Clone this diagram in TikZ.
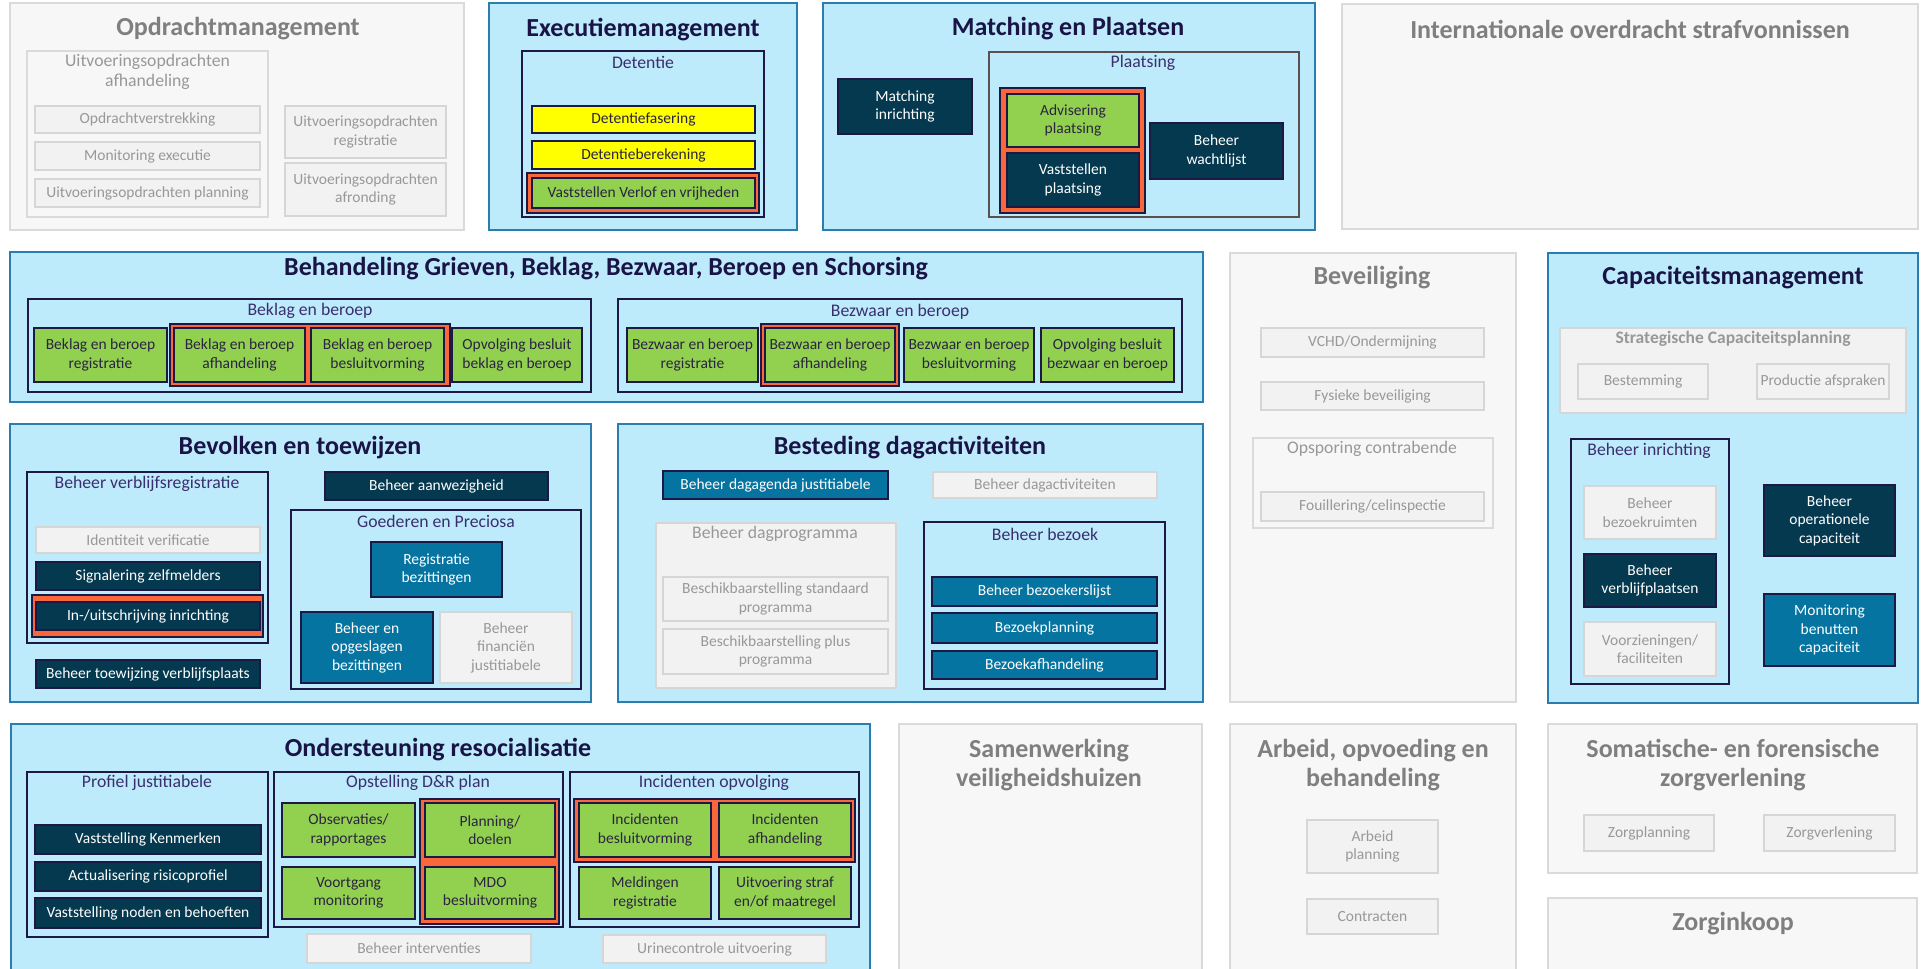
\documentclass[tikz,border=0pt]{standalone}
\usepackage{fontspec}
\setmainfont{Carlito}
\definecolor{cyanbg}{HTML}{BDEBFC}
\definecolor{domborder}{HTML}{2A7DAE}
\definecolor{greybg}{HTML}{F7F7F7}
\definecolor{greyborder}{HTML}{DADADA}
\definecolor{navy}{HTML}{1C1A45}
\definecolor{darkteal}{HTML}{05394F}
\definecolor{midblue}{HTML}{0574A0}
\definecolor{lgreen}{HTML}{92D050}
\definecolor{yel}{HTML}{FFFF00}
\definecolor{orng}{HTML}{F8683B}
\definecolor{greyitem}{HTML}{F2F2F2}
\definecolor{greyitemborder}{HTML}{D6D6D6}
\definecolor{greytext}{HTML}{989898}
\definecolor{titlenavy}{HTML}{1A1446}
\definecolor{headernavy}{HTML}{3A2F6E}
\definecolor{itemtext}{HTML}{2A2440}
\definecolor{titlegrey}{HTML}{7F7F7F}
\definecolor{plaatsborder}{HTML}{5A5050}
\newcommand\bxn[7]{\node[#1, minimum width={#5pt-#3pt}, minimum height={#6pt-#4pt}] (#2) at ({(#3+#5)/2},{(#4+#6)/2}) {#7};}
\tikzset{
  base/.style={rectangle, inner sep=0pt, outer sep=0pt, align=center, font=\fontsize{15.5}{18.5}\selectfont},
  domb/.style={base, fill=cyanbg, draw=domborder, line width=2.5pt},
  domg/.style={base, fill=greybg, draw=greyborder, line width=2.5pt},
  subb/.style={base, draw=navy, line width=2.2pt},
  subbp/.style={base, draw=plaatsborder, line width=2.2pt},
  subg/.style={base, fill=greybg, draw=greyborder, line width=2pt},
  subg2/.style={base, fill=greyitem, draw=greyitemborder, line width=2pt},
  dk/.style={base, fill=darkteal, draw=navy, line width=2pt, text=white},
  bl/.style={base, fill=midblue, draw=navy, line width=2pt, text=white},
  gr/.style={base, fill=lgreen, draw=navy, line width=2pt, text=itemtext},
  ye/.style={base, fill=yel, draw=navy, line width=2pt, text=itemtext},
  gy/.style={base, fill=greyitem, draw=greyitemborder, line width=2pt, text=greytext},
  hl/.style={base, fill=orng, draw=navy, line width=2pt},
  ttl/.style={align=center, inner sep=0pt, font=\fontsize{26}{29.5}\selectfont\bfseries, text=titlenavy},
  ttlg/.style={align=center, inner sep=0pt, font=\fontsize{26}{29.5}\selectfont\bfseries, text=titlegrey},
  hd/.style={align=center, inner sep=0pt, font=\fontsize{17.7}{20}\selectfont, text=headernavy},
  hdg/.style={align=center, inner sep=0pt, font=\fontsize{17.7}{20}\selectfont, text=greytext},
}
\begin{document}
\begin{tikzpicture}[x=1pt,y=-1pt]
\useasboundingbox (0,0) rectangle (1922,969);
\clip (0,0) rectangle (1922,969);
\fill[white] (0,0) rectangle (1922,969);

% ---------- Row 1 ----------
\bxn{domg}{opd}{10}{3}{464}{230}{}
\node[ttlg] (topd) at (238,29) {Opdrachtmanagement};
\bxn{subg}{opdsub}{27}{51}{268}{217}{}
\node[hdg] (hopdsub) at (147.5,72) {Uitvoeringsopdrachten\\afhandeling};
\bxn{gy}{o1}{35}{106}{260}{133}{Opdrachtverstrekking}
\bxn{gy}{o2}{35}{142}{260}{170}{Monitoring executie}
\bxn{gy}{o3}{35}{179}{260}{207}{Uitvoeringsopdrachten planning}
\bxn{gy}{o4}{285}{106}{446}{158}{Uitvoeringsopdrachten\\registratie}
\bxn{gy}{o5}{285}{163}{446}{216}{Uitvoeringsopdrachten\\afronding}

\bxn{domb}{exe}{489}{3}{797}{230}{}
\node[ttl] (texe) at (643,30) {Executiemanagement};
\bxn{subb}{det}{522}{51}{764}{217}{}
\node[hd] (hdet) at (643,62) {Detentie};
\bxn{ye}{d1}{532}{106}{755}{133}{Detentiefasering}
\bxn{ye}{d2}{532}{141}{755}{169}{Detentieberekening}
\bxn{hl}{dhl}{527}{173}{759}{213}{}
\bxn{gr}{d3}{532}{178}{755}{208}{Vaststellen Verlof en vrijheden}

\bxn{domb}{mat}{823}{3}{1315}{230}{}
\node[ttl] (tmat) at (1068,29) {Matching en Plaatsen};
\bxn{dk}{m1}{838}{79}{972}{134}{Matching\\inrichting}
\bxn{subbp}{plaats}{989}{52}{1299}{217}{}
\node[hd] (hplaats) at (1143,63) {Plaatsing};
\bxn{hl}{mhl}{1000}{88}{1145}{213}{}
\bxn{gr}{m2}{1007}{94}{1139}{147}{Advisering\\plaatsing}
\bxn{dk}{m3}{1007}{153}{1139}{207}{Vaststellen\\plaatsing}
\bxn{dk}{m4}{1150}{123}{1283}{179}{Beheer\\wachtlijst}

\bxn{domg}{int}{1342}{4}{1918}{229}{}
\node[ttlg] (tint) at (1630,29) {Internationale overdracht strafvonnissen};

% ---------- Row 2 ----------
\bxn{domb}{beh}{10}{252}{1203}{402}{}
\node[ttl] (tbeh) at (606,269) {Behandeling Grieven, Beklag, Bezwaar, Beroep en Schorsing};
\bxn{subb}{bk}{28}{299}{591}{392}{}
\node[hd] (hbk) at (310,311) {Beklag en beroep};
\bxn{gr}{b1}{34}{328}{167}{382}{Beklag en beroep\\registratie}
\bxn{hl}{bhl}{170}{324}{450}{386}{}
\bxn{gr}{b2}{174}{328}{305}{382}{Beklag en beroep\\afhandeling}
\bxn{gr}{b3}{311}{328}{444}{382}{Beklag en beroep\\besluitvorming}
\bxn{gr}{b4}{452}{328}{582}{382}{Opvolging besluit\\beklag en beroep}
\bxn{subb}{bz}{618}{299}{1182}{392}{}
\node[hd] (hbz) at (900,312) {Bezwaar en beroep};
\bxn{gr}{z1}{627}{328}{758}{382}{Bezwaar en beroep\\registratie}
\bxn{hl}{zhl}{761}{324}{899}{386}{}
\bxn{gr}{z2}{765}{328}{895}{382}{Bezwaar en beroep\\afhandeling}
\bxn{gr}{z3}{904}{328}{1034}{382}{Bezwaar en beroep\\besluitvorming}
\bxn{gr}{z4}{1041}{328}{1174}{382}{Opvolging besluit\\bezwaar en beroep}

\bxn{domg}{bev}{1230}{253}{1516}{702}{}
\node[ttlg] (tbev) at (1372,278) {Beveiliging};
\bxn{gy}{v1}{1261}{328}{1484}{357}{VCHD/Ondermijning}
\bxn{gy}{v2}{1261}{382}{1484}{410}{Fysieke beveiliging}
\bxn{subg}{vsub}{1253}{438}{1493}{528}{}
\node[hdg] (hvsub) at (1372,449) {Opsporing contrabende};
\bxn{gy}{v3}{1261}{492}{1484}{521}{Fouillering/celinspectie}

\bxn{domb}{cap}{1548}{253}{1918}{703}{}
\node[ttl] (tcap) at (1733,278) {Capaciteitsmanagement};
\bxn{subg2}{cs}{1560}{328}{1906}{413}{}
\node[hdg, font=\fontsize{17.5}{20}\selectfont\bfseries] (hcs) at (1733,339) {Strategische Capaciteitsplanning};
\bxn{gy}{c1}{1578}{364}{1708}{399}{Bestemming}
\bxn{gy}{c2}{1757}{364}{1889}{399}{Productie afspraken}
\bxn{subb}{ci}{1571}{439}{1729}{684}{}
\node[hd] (hci) at (1649,451) {Beheer inrichting};
\bxn{gy}{c3}{1584}{486}{1716}{539}{Beheer\\bezoekruimten}
\bxn{dk}{c4}{1584}{554}{1716}{607}{Beheer\\verblijfplaatsen}
\bxn{gy}{c5}{1584}{622}{1716}{676}{Voorzieningen/\\faciliteiten}
\bxn{dk}{c6}{1764}{485}{1895}{556}{Beheer\\operationele\\capaciteit}
\bxn{bl}{c7}{1764}{594}{1895}{666}{Monitoring\\benutten\\capaciteit}

% ---------- Row 3 ----------
\bxn{domb}{bvk}{10}{424}{591}{702}{}
\node[ttl] (tbvk) at (300,448) {Bevolken en toewijzen};
\bxn{subb}{bvr}{27}{472}{268}{643}{}
\node[hd] (hbvr) at (147,484) {Beheer verblijfsregistratie};
\bxn{gy}{r1}{36}{527}{260}{553}{Identiteit verificatie}
\bxn{dk}{r2}{36}{562}{260}{590}{Signalering zelfmelders}
\bxn{hl}{rhl}{32}{595}{263}{637}{}
\bxn{dk}{r3}{36}{602}{260}{630}{In-/uitschrijving inrichting}
\bxn{dk}{r4}{36}{660}{260}{688}{Beheer toewijzing verblijfsplaats}
\bxn{dk}{r5}{325}{472}{548}{500}{Beheer aanwezigheid}
\bxn{subb}{gp}{291}{510}{581}{689}{}
\node[hd] (hgp) at (436,521) {Goederen en Preciosa};
\bxn{bl}{g1}{371}{542}{502}{597}{Registratie\\bezittingen}
\bxn{bl}{g2}{301}{612}{433}{683}{Beheer en\\opgeslagen\\bezittingen}
\bxn{gy}{g3}{440}{612}{572}{683}{Beheer\\financiën\\justitiabele}

\bxn{domb}{bst}{618}{424}{1203}{702}{}
\node[ttl] (tbst) at (910,448) {Besteding dagactiviteiten};
\bxn{bl}{s1}{663}{471}{888}{499}{Beheer dagagenda justitiabele}
\bxn{gy}{s2}{933}{472}{1157}{498}{Beheer dagactiviteiten}
\bxn{subg2}{dp}{656}{523}{896}{688}{}
\node[hdg] (hdp) at (775,534) {Beheer dagprogramma};
\bxn{gy}{s3}{663}{577}{888}{621}{Beschikbaarstelling standaard\\programma}
\bxn{gy}{s4}{663}{629}{888}{674}{Beschikbaarstelling plus\\programma}
\bxn{subb}{bb}{924}{522}{1165}{689}{}
\node[hd] (hbb) at (1045,534) {Beheer bezoek};
\bxn{bl}{s5}{932}{577}{1157}{606}{Beheer bezoekerslijst}
\bxn{bl}{s6}{932}{613}{1157}{643}{Bezoekplanning}
\bxn{bl}{s7}{932}{651}{1157}{679}{Bezoekafhandeling}

% ---------- Row 4 ----------
\bxn{domb}{ond}{11}{724}{870}{990}{}
\node[ttl] (tond) at (438,750) {Ondersteuning resocialisatie};
\bxn{subb}{pj}{27}{772}{268}{937}{}
\node[hd] (hpj) at (147,783) {Profiel justitiabele};
\bxn{dk}{p1}{35}{825}{261}{854}{Vaststelling Kenmerken}
\bxn{dk}{p2}{35}{862}{261}{891}{Actualisering risicoprofiel}
\bxn{dk}{p3}{35}{898}{261}{928}{Vaststelling noden en behoeften}
\bxn{subb}{dr}{274}{772}{563}{927}{}
\node[hd] (hdr) at (418,783) {Opstelling D\&R plan};
\bxn{gr}{q1}{282}{803}{415}{857}{Observaties/\\rapportages}
\bxn{gr}{q2}{282}{867}{415}{919}{Voortgang\\monitoring}
\bxn{hl}{qhl}{420}{799}{559}{924}{}
\bxn{gr}{q3}{425}{803}{555}{857}{Planning/\\doelen}
\bxn{gr}{q4}{425}{867}{555}{919}{MDO\\besluitvorming}
\bxn{subb}{io}{570}{772}{859}{927}{}
\node[hd] (hio) at (714,783) {Incidenten opvolging};
\bxn{hl}{ihl}{574}{799}{855}{862}{}
\bxn{gr}{i1}{579}{803}{711}{857}{Incidenten\\besluitvorming}
\bxn{gr}{i2}{719}{803}{851}{857}{Incidenten\\afhandeling}
\bxn{gr}{i3}{579}{867}{711}{919}{Meldingen\\registratie}
\bxn{gr}{i4}{719}{867}{851}{919}{Uitvoering straf\\en/of maatregel}
\bxn{gy}{u1}{307}{934}{531}{963}{Beheer interventies}
\bxn{gy}{u2}{603}{935}{826}{963}{Urinecontrole uitvoering}

\bxn{domg}{sam}{899}{724}{1202}{990}{}
\node[ttlg] (tsam) at (1049,765) {Samenwerking\\veiligheidshuizen};
\bxn{domg}{arb}{1230}{724}{1516}{990}{}
\node[ttlg] (tarb) at (1373,765) {Arbeid, opvoeding en\\behandeling};
\bxn{gy}{a1}{1307}{820}{1438}{873}{Arbeid\\planning}
\bxn{gy}{a2}{1307}{899}{1438}{934}{Contracten}
\bxn{domg}{som}{1548}{724}{1917}{873}{}
\node[ttlg] (tsom) at (1733,765) {Somatische- en forensische\\zorgverlening};
\bxn{gy}{zp1}{1584}{815}{1714}{851}{Zorgplanning}
\bxn{gy}{zp2}{1764}{815}{1895}{851}{Zorgverlening}
\bxn{domg}{zin}{1548}{898}{1917}{990}{}
\node[ttlg] (tzin) at (1733,924) {Zorginkoop};
\end{tikzpicture}
\end{document}
